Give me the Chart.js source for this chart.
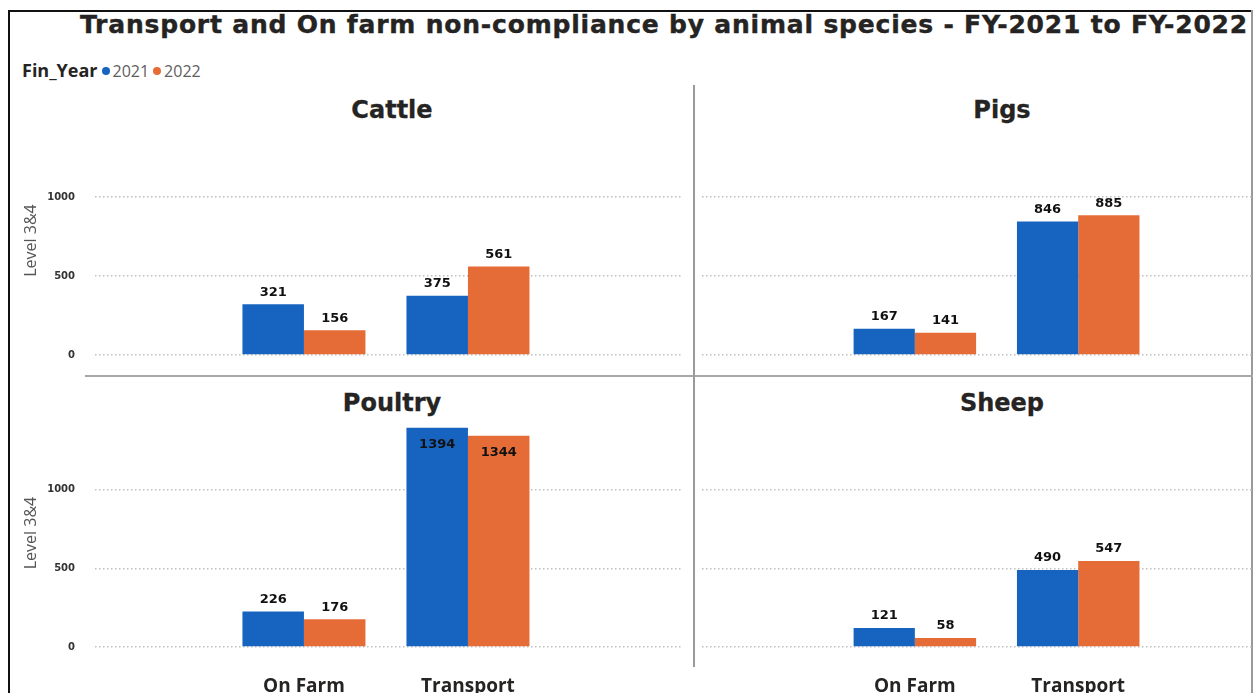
<!DOCTYPE html>
<html>
<head>
<meta charset="utf-8">
<script src="https://cdn.jsdelivr.net/npm/chart.js@4.4.1/dist/chart.umd.min.js"></script>
<style>
  html, body { margin: 0; padding: 0; background: #fff; }
  body { width: 1253px; height: 693px; position: relative; overflow: hidden; }
  .abs { position: absolute; }
  #title { left: 80px; top: 10px; line-height: 30px; font-family: "DejaVu Sans", sans-serif; font-weight: bold; font-size: 25px; letter-spacing: 0.8px; color: #252423; white-space: nowrap; -webkit-text-stroke: 0.4px #252423; }
  #legend { left: 22px; top: 57px; line-height: 26px; font-family: "Open Sans", sans-serif; white-space: nowrap; }
  #legend .hdr { font-weight: bold; font-size: 18px; color: #252423; }
  #legend .item { font-size: 16px; color: #605E5C; margin-left: 4px; }
  #legend .dot { display: inline-block; width: 8px; height: 8px; border-radius: 50%; margin-right: 3px; vertical-align: 2px; }
  .ptitle { position: absolute; width: 300px; text-align: center; line-height: 28px; font-family: "DejaVu Sans", sans-serif; font-weight: bold; font-size: 24px; color: #252423; -webkit-text-stroke: 0.3px #252423; }
  canvas { position: absolute; }
</style>
</head>
<body>
<div class="abs" style="left:8px;top:10px;width:2px;height:683px;background:#111;"></div>
<div class="abs" style="left:8px;top:10px;width:1245px;height:2px;background:#111;"></div>
<div class="abs" style="left:1251px;top:10px;width:2px;height:683px;background:#9a9a9a;"></div>
<div id="title" class="abs">Transport and On farm non-compliance by animal species - FY-2021 to FY-2022</div>
<div id="legend" class="abs"><span class="hdr">Fin_Year</span><span class="item"><span class="dot" id="d1"></span>2021</span><span class="item"><span class="dot" id="d2"></span>2022</span></div>
<div class="abs" style="left:85px;top:375px;width:1168px;height:2px;background:#a8a8a8;"></div>
<div class="abs" style="left:693px;top:85px;width:2px;height:582px;background:#9a9a9a;"></div>

<div class="ptitle" id="t0" style="left:242px;top:96px;"></div>
<div class="ptitle" id="t1" style="left:852px;top:96px;"></div>
<div class="ptitle" id="t2" style="left:242px;top:389px;"></div>
<div class="ptitle" id="t3" style="left:852px;top:389px;"></div>

<canvas id="cTL" width="684" height="296" style="left:10px;top:85px;"></canvas>
<canvas id="cTR" width="557" height="296" style="left:696px;top:85px;"></canvas>
<canvas id="cBL" width="684" height="315" style="left:10px;top:378px;"></canvas>
<canvas id="cBR" width="557" height="315" style="left:696px;top:378px;"></canvas>

<script>
// ---- data ----
const categories = ['On Farm', 'Transport'];
const years = ['2021', '2022'];
const species = ['Cattle', 'Pigs', 'Poultry', 'Sheep'];
const cattle2021 = [321, 375];
const cattle2022 = [156, 561];
const pigs2021 = [167, 846];
const pigs2022 = [141, 885];
const poultry2021 = [226, 1394];
const poultry2022 = [176, 1344];
const sheep2021 = [121, 490];
const sheep2022 = [58, 547];
const yTicks = [0, 500, 1000];
const yAxisTitle = 'Level 3&4';

const colors = ['#1764C0', '#E66C37'];
document.getElementById('d1').style.background = colors[0];
document.getElementById('d2').style.background = colors[1];
species.forEach((s, i) => { document.getElementById('t' + i).textContent = s; });

const labelPlugin = {
  id: 'barLabels',
  afterDatasetsDraw(chart) {
    const ctx = chart.ctx;
    const area = chart.chartArea;
    ctx.save();
    ctx.font = 'bold 13px "DejaVu Sans"';
    ctx.fillStyle = '#111';
    ctx.textAlign = 'center';
    ctx.textBaseline = 'middle';
    chart.data.datasets.forEach((ds, di) => {
      const meta = chart.getDatasetMeta(di);
      meta.data.forEach((bar, i) => {
        const v = ds.data[i].y;
        let y = bar.y - 12;
        if (y - 7 < area.top) y = bar.y + 17;
        ctx.fillText(String(v), bar.x, y);
      });
    });
    ctx.restore();
  }
};

function makeChart(id, d2021, d2022, showY, showX, xMin, xMax, padRight) {
  const toPts = arr => arr.map((v, i) => ({ x: i, y: v }));
  return new Chart(document.getElementById(id), {
    type: 'bar',
    data: {
      datasets: [
        { label: years[0], data: toPts(d2021), backgroundColor: colors[0], borderWidth: 0 },
        { label: years[1], data: toPts(d2022), backgroundColor: colors[1], borderWidth: 0 }
      ]
    },
    plugins: [labelPlugin],
    options: {
      responsive: false,
      animation: false,
      devicePixelRatio: 1,
      layout: { padding: { top: 41, left: 0, right: padRight, bottom: 0 } },
      categoryPercentage: 0.75,
      barPercentage: 1.0,
      plugins: {
        legend: { display: false },
        tooltip: { enabled: false },
        title: { display: false }
      },
      scales: {
        x: {
          type: 'linear', min: xMin, max: xMax, offset: false,
          afterBuildTicks: s => { s.ticks = categories.map((c, i) => ({ value: i })); },
          afterFit: s => { s.height = showX ? 46 : 26; },
          grid: { display: false, drawTicks: false, offset: false },
          border: { display: false },
          ticks: {
            display: showX, padding: 28, color: '#252423',
            font: { family: 'Open Sans', weight: 'bold', size: 19 },
            callback: v => categories[v], autoSkip: false, maxRotation: 0
          }
        },
        y: {
          type: 'linear', min: 0, max: 1450,
          afterBuildTicks: s => { s.ticks = yTicks.map(v => ({ value: v })); },
          afterFit: s => { s.width = showY ? 85 : 6; },
          grid: { color: '#c0c0c0', lineWidth: 1.5, drawTicks: false },
          border: { display: false, dash: [1.5, 2.5] },
          ticks: {
            display: showY, padding: 20, color: '#333',
            font: { family: 'DejaVu Sans', weight: 'bold', size: 10 },
            callback: v => String(v)
          },
          title: {
            display: showY, text: yAxisTitle, color: '#555',
            font: { family: 'Open Sans', size: 16 },
            padding: { top: 12, bottom: 0 }
          }
        }
      }
    }
  });
}

makeChart('cTL', cattle2021, cattle2022, true, false, -1.274, 2.305, 12);
makeChart('cTR', pigs2021, pigs2022, false, false, -1.303, 2.070, 0);
makeChart('cBL', poultry2021, poultry2022, true, true, -1.274, 2.305, 12);
makeChart('cBR', sheep2021, sheep2022, false, true, -1.303, 2.070, 0);
</script>
</body>
</html>
